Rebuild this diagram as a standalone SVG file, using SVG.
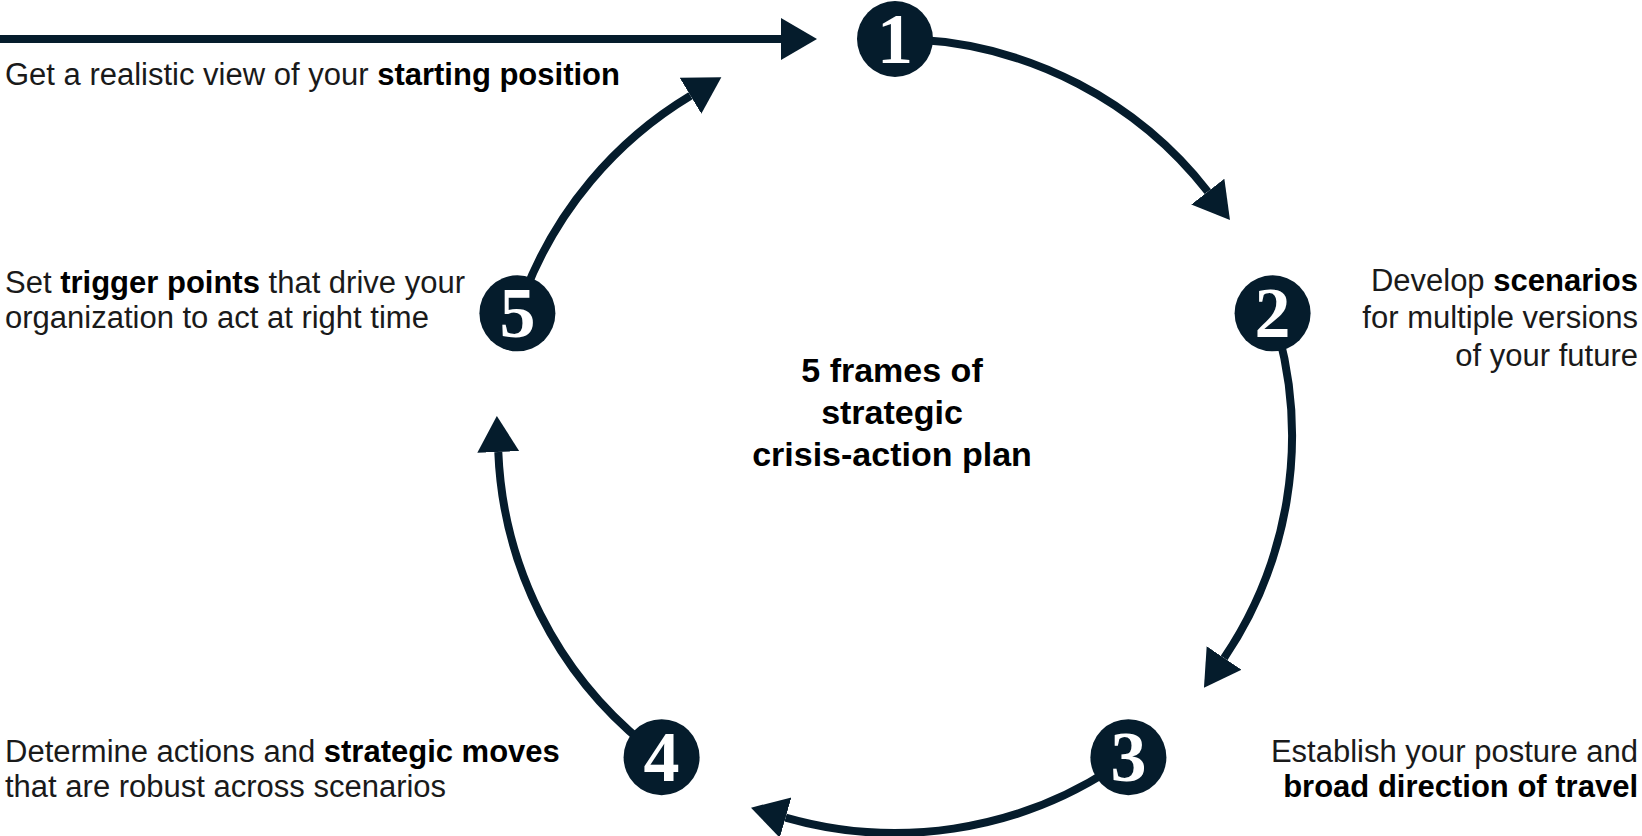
<svg xmlns="http://www.w3.org/2000/svg" width="1642" height="836" viewBox="0 0 1642 836">
<defs>
<marker id="ah" markerUnits="userSpaceOnUse" markerWidth="40" markerHeight="46" viewBox="0 -23 40 46" refX="0" refY="0" orient="auto"><path d="M0,-21 L36,0 L0,21 z" fill="#051c2c"/></marker>
</defs>
<style>
.conn{fill:none;stroke:#051c2c;stroke-width:8;marker-end:url(#ah)}
.dot{fill:#051c2c}
.num{font-family:"Liberation Serif",serif;font-size:72px;font-weight:bold;fill:#fff;text-anchor:middle}
.lbl{font-family:"Liberation Sans",Arial,sans-serif;font-size:31px;fill:#1a1a1a}
.r{text-anchor:end}
.b{font-weight:bold;fill:#000}
.title{font-family:"Liberation Sans",Arial,sans-serif;font-size:34px;font-weight:bold;text-anchor:middle;fill:#000}
</style>
<rect width="1642" height="836" fill="#fff"/>
<g id="connectors">
<path class="conn" d="M0,39 L781,39"/>
<path class="conn" d="M915.8,39.6 A397,397 0 0 1 1207.8,191.6"/>
<path class="conn" d="M1278.5,333.3 A397,397 0 0 1 1224.1,658"/>
<path class="conn" d="M1111.2,769 A397,397 0 0 1 785.6,817.6"/>
<path class="conn" d="M645.2,744.5 A397,397 0 0 1 498.3,452"/>
<path class="conn" d="M524.4,293.7 A397,397 0 0 1 690.5,95.7"/>
</g>
<g id="node1">
<circle class="dot" cx="895" cy="39" r="38"/>
<text class="num" x="895" y="63">1</text>
<text class="lbl" x="5" y="85">Get a realistic view of your <tspan class="b">starting position</tspan></text>
</g>
<g id="node2">
<circle class="dot" cx="1272.6" cy="313.3" r="38"/>
<text class="num" x="1272.6" y="337.3">2</text>
<text class="lbl r" x="1638" y="291">Develop <tspan class="b">scenarios</tspan></text>
<text class="lbl r" x="1638" y="328">for multiple versions</text>
<text class="lbl r" x="1638" y="366">of your future</text>
</g>
<g id="node3">
<circle class="dot" cx="1128.4" cy="757.2" r="38"/>
<text class="num" x="1128.4" y="781.2">3</text>
<text class="lbl r" x="1638" y="762">Establish your posture and</text>
<text class="lbl r b" x="1638" y="797">broad direction of travel</text>
</g>
<g id="node4">
<circle class="dot" cx="661.6" cy="757.2" r="38"/>
<text class="num" x="661.6" y="781.2">4</text>
<text class="lbl" x="5" y="762">Determine actions and <tspan class="b">strategic moves</tspan></text>
<text class="lbl" x="5" y="797">that are robust across scenarios</text>
</g>
<g id="node5">
<circle class="dot" cx="517.4" cy="313.3" r="38"/>
<text class="num" x="517.4" y="337.3">5</text>
<text class="lbl" x="5" y="293">Set <tspan class="b">trigger points</tspan> that drive your</text>
<text class="lbl" x="5" y="328">organization to act at right time</text>
</g>
<g id="center">
<text class="title" x="892" y="382">5 frames of</text>
<text class="title" x="892" y="424">strategic</text>
<text class="title" x="892" y="466">crisis-action plan</text>
</g>
</svg>
